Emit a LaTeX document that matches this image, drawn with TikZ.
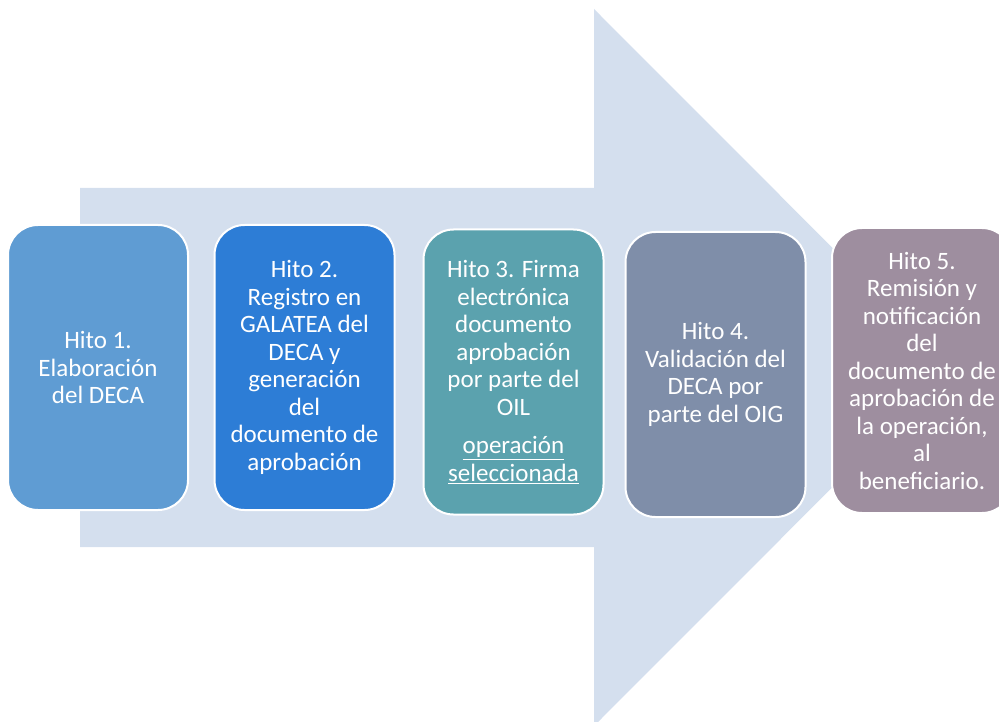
\documentclass[tikz,border=0pt]{standalone}
\usepackage{fontspec}
\setmainfont{Carlito}
\definecolor{arrowfill}{HTML}{D4DFEE}
\definecolor{cA}{HTML}{5F9CD3}
\definecolor{cB}{HTML}{2D7DD6}
\definecolor{cC}{HTML}{5BA2AE}
\definecolor{cD}{HTML}{7F8EA9}
\definecolor{cE}{HTML}{9E8E9F}
\tikzset{
  hito/.style={draw=white, line width=2pt, rounded corners=30pt,
    minimum width=180pt, minimum height=285pt, inner sep=0pt,
    text=white, align=center, font=\fontsize{25}{27.5}\selectfont}
}
\begin{document}
\begin{tikzpicture}[x=1pt,y=-1pt]
\useasboundingbox (0,0) rectangle (999,722);
\clip (0,0) rectangle (999,722);
\fill[arrowfill] (80,188) -- (594,188) -- (594,9) -- (952,367.5) -- (594,726) -- (594,547) -- (80,547) -- cycle;
\node[hito, fill=cA] (h1) at (98,367.5) {Hito 1.\\Elaboración\\del DECA};
\node[hito, fill=cB] (h2) at (304.5,367.5) {Hito 2.\\Registro en\\GALATEA del\\DECA y\\generación\\del\\documento de\\aprobación};
\node[hito, fill=cC] (h3) at (513.5,372) {Hito 3. Firma\\electrónica\\documento\\aprobación\\por parte del\\OIL\\[11pt]\underline{operación}\\\underline{seleccionada}};
\node[hito, fill=cD] (h4) at (715.5,374.5) {Hito 4.\\Validación del\\DECA por\\parte del OIG};
\node[hito, fill=cE] (h5) at (922,370.5) {Hito 5.\\Remisión y\\notificación\\del\\documento de\\aprobación de\\la operación,\\al\\beneficiario.};
\end{tikzpicture}
\end{document}
